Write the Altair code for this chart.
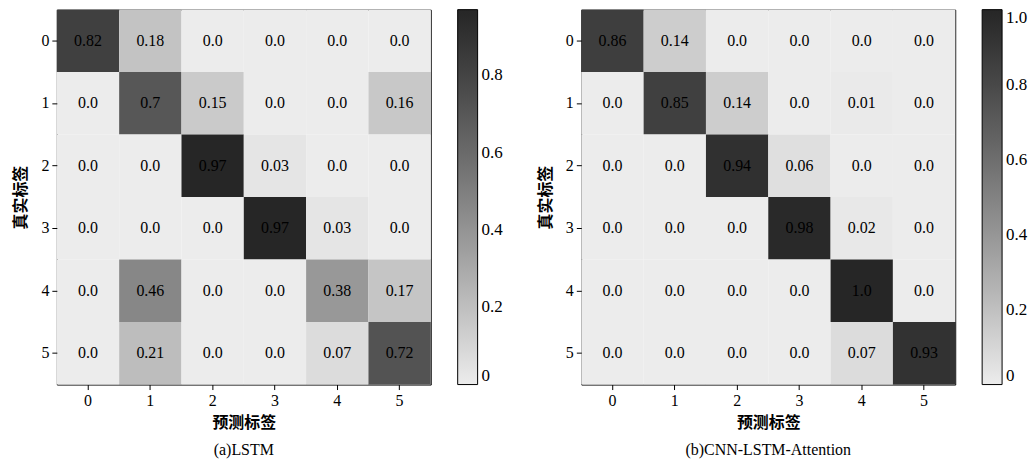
import altair as alt
import pandas as pd

labels = [0, 1, 2, 3, 4, 5]

lstm_rows = [
    [0.82, 0.18, 0.0, 0.0, 0.0, 0.0],
    [0.0, 0.7, 0.15, 0.0, 0.0, 0.16],
    [0.0, 0.0, 0.97, 0.03, 0.0, 0.0],
    [0.0, 0.0, 0.0, 0.97, 0.03, 0.0],
    [0.0, 0.46, 0.0, 0.0, 0.38, 0.17],
    [0.0, 0.21, 0.0, 0.0, 0.07, 0.72],
]
cla_rows = [
    [0.86, 0.14, 0.0, 0.0, 0.0, 0.0],
    [0.0, 0.85, 0.14, 0.0, 0.01, 0.0],
    [0.0, 0.0, 0.94, 0.06, 0.0, 0.0],
    [0.0, 0.0, 0.0, 0.98, 0.02, 0.0],
    [0.0, 0.0, 0.0, 0.0, 1.0, 0.0],
    [0.0, 0.0, 0.0, 0.0, 0.07, 0.93],
]
titles = ["(a)LSTM", "(b)CNN-LSTM-Attention"]
color_max = [0.97, 1.0]
legend_ticks = [[0, 0.2, 0.4, 0.6, 0.8], [0, 0.2, 0.4, 0.6, 0.8, 1.0]]

SERIF = "Liberation Serif"
CJK = "Noto Sans CJK SC"


def to_df(rows):
    recs = []
    for i, row in enumerate(rows):
        for j, v in enumerate(row):
            recs.append({"true": labels[i], "pred": labels[j], "v": v, "t": str(v)})
    return pd.DataFrame(recs)


def panel(rows, title, vmax, ticks):
    df = to_df(rows)
    base = alt.Chart(df)
    heat = base.mark_rect().encode(
        x=alt.X("pred:O", title="预测标签",
                axis=alt.Axis(labelAngle=0, titleFont=CJK, titleFontWeight="bold",
                              titleFontSize=16, titlePadding=6,
                              labelFont=SERIF, labelFontSize=16, labelColor="black",
                              tickColor="black", tickSize=5, labelPadding=3, domain=False)),
        y=alt.Y("true:O", title="真实标签",
                axis=alt.Axis(titleFont=CJK, titleFontWeight="bold",
                              titleFontSize=16, titlePadding=12,
                              labelFont=SERIF, labelFontSize=16, labelColor="black",
                              tickColor="black", tickSize=5, labelPadding=3, domain=False)),
        color=alt.Color("v:Q",
                        scale=alt.Scale(domain=[0, vmax], range=["#ececec", "#262626"]),
                        legend=alt.Legend(title=None, orient="right", offset=27,
                                          gradientLength=376, gradientThickness=20,
                                          gradientStrokeColor="black", gradientStrokeWidth=1,
                                          values=ticks, labelFont=SERIF, labelFontSize=17,
                                          labelColor="black", labelOffset=4,
                                          labelExpr="datum.value == 0 ? '0' : format(datum.value, '.1f')")),
    )
    text = base.mark_text(font=SERIF, fontSize=16, color="black").encode(
        x="pred:O", y="true:O", text="t:N"
    )
    return (heat + text).properties(
        width=375, height=376,
        title=alt.TitleParams(text=title, orient="bottom", font=SERIF, fontSize=16,
                              fontWeight="normal", color="black", offset=12),
    )


left = panel(lstm_rows, titles[0], color_max[0], legend_ticks[0])
right = panel(cla_rows, titles[1], color_max[1], legend_ticks[1])

chart = alt.hconcat(left, right, spacing=32).resolve_scale(color="independent").properties(
    padding={"left": 12, "top": 8, "right": 5, "bottom": 0},
    background="white",
).configure_view(stroke="black", strokeWidth=1)

chart.save("out.html", embed_options={"renderer": "svg", "actions": False})
